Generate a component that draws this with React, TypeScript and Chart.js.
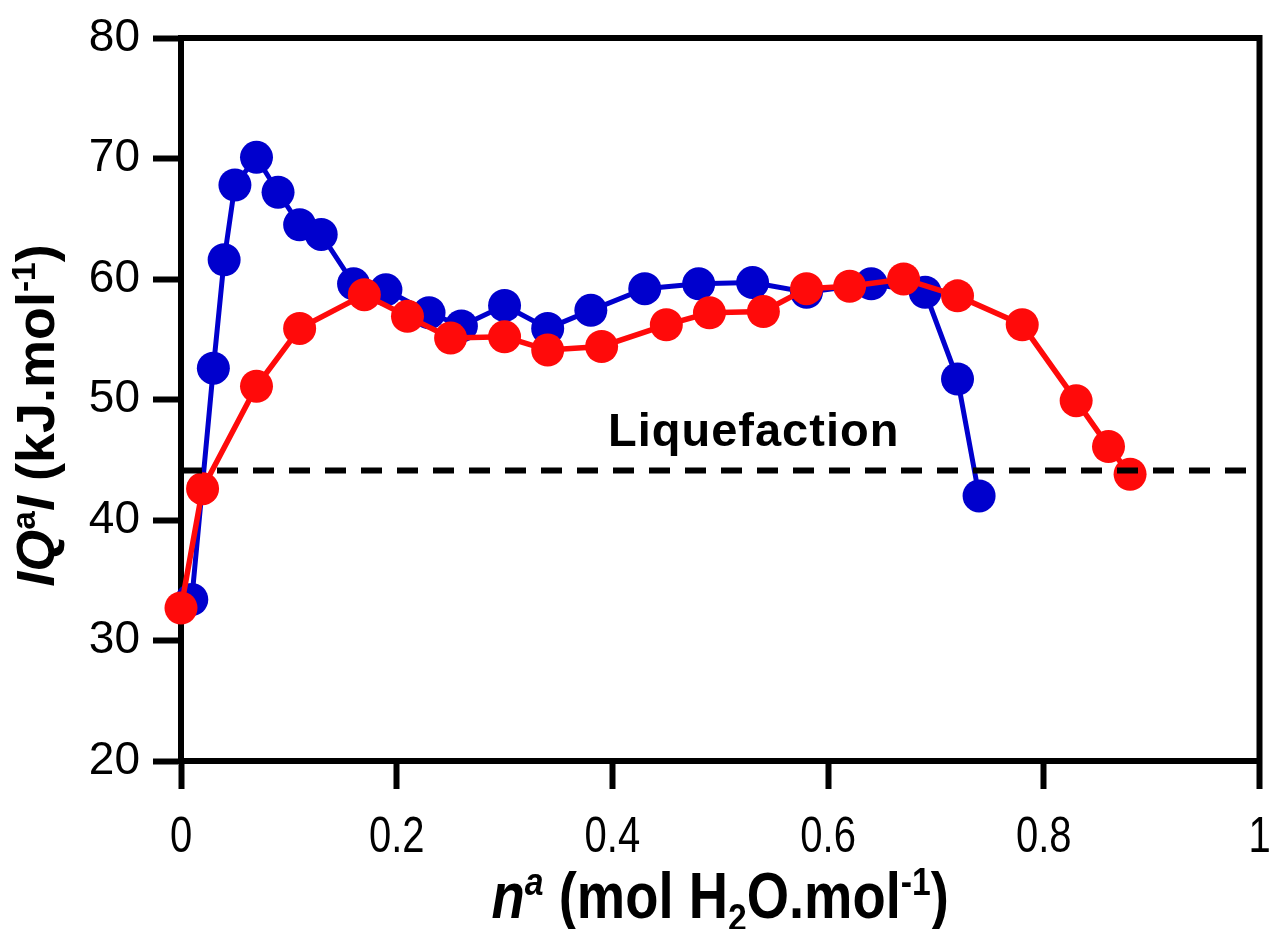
import { useEffect, useRef } from 'react';
import { Chart, registerables } from 'chart.js';

Chart.register(...registerables);

// ---- data ----
const blueX = [0.01, 0.03, 0.04, 0.05, 0.07, 0.09, 0.11, 0.13, 0.16, 0.19, 0.23, 0.26, 0.30, 0.34, 0.38, 0.43, 0.48, 0.53, 0.58, 0.64, 0.69, 0.72, 0.74];
const blueY = [33.4, 52.6, 61.6, 67.8, 70.1, 67.2, 64.5, 63.7, 59.6, 59.1, 57.2, 56.1, 57.8, 55.9, 57.4, 59.2, 59.6, 59.7, 58.9, 59.6, 58.9, 51.7, 42.0];

const redX = [0, 0.02, 0.07, 0.11, 0.17, 0.21, 0.25, 0.30, 0.34, 0.39, 0.45, 0.49, 0.54, 0.58, 0.62, 0.67, 0.72, 0.78, 0.83, 0.86, 0.88];
const redY = [32.7, 42.6, 51.1, 55.9, 58.7, 56.9, 55.1, 55.2, 54.1, 54.4, 56.2, 57.2, 57.3, 59.2, 59.4, 60.0, 58.6, 56.2, 49.9, 46.1, 43.8];

const liquefactionY = 44.1;
const liquefactionLabel = 'Liquefaction';
const liquefactionLabelAt = { x: 0.531, y: 47.2 };

const xTicks = [0, 0.2, 0.4, 0.6, 0.8, 1];
const xTickLabels = ['0', '0.2', '0.4', '0.6', '0.8', '1'];
const yTicks = [20, 30, 40, 50, 60, 70, 80];
const yTickLabels = ['20', '30', '40', '50', '60', '70', '80'];

// rich-text titles: [text, italic, position]
type Seg = [string, boolean, 'base' | 'sup' | 'sub'];
const xTitle: Seg[] = [
  ['n', true, 'base'],
  ['a', true, 'sup'],
  [' (mol H', false, 'base'],
  ['2', false, 'sub'],
  ['O.mol', false, 'base'],
  ['-1', false, 'sup'],
  [')', false, 'base'],
];
const yTitle: Seg[] = [
  ['IQ', true, 'base'],
  ['a', false, 'sup'],
  ['I', true, 'base'],
  [' (kJ.mol', false, 'base'],
  ['-1', false, 'sup'],
  [')', false, 'base'],
];

const BLUE = '#0000CD';
const RED = '#FF0A0A';
const SANS = "'Liberation Sans', Arial, sans-serif";

function drawRich(
  ctx: CanvasRenderingContext2D,
  segs: Seg[],
  size: number,
  family: string,
  cx: number,
  baseline: number,
  rotate: boolean,
  squeeze: number,
) {
  const fontFor = (s: Seg) => {
    const sz = s[2] === 'base' ? size : size * 0.62;
    return `${s[1] ? 'italic ' : ''}bold ${sz}px ${family}`;
  };
  let total = 0;
  const widths: number[] = [];
  for (const s of segs) {
    ctx.font = fontFor(s);
    const w = ctx.measureText(s[0]).width;
    widths.push(w);
    total += w;
  }
  ctx.save();
  if (rotate) {
    ctx.translate(baseline, cx);
    ctx.rotate(-Math.PI / 2);
  } else {
    ctx.translate(cx, baseline);
  }
  ctx.scale(squeeze, 1);
  ctx.fillStyle = '#000';
  ctx.textBaseline = 'alphabetic';
  ctx.textAlign = 'left';
  let x = -total / 2;
  segs.forEach((s, i) => {
    ctx.font = fontFor(s);
    let dy = 0;
    if (s[2] === 'sup') dy = -size * 0.36;
    if (s[2] === 'sub') dy = size * 0.2;
    ctx.fillText(s[0], x, dy);
    x += widths[i];
  });
  ctx.restore();
}

const decorPlugin = {
  id: 'decor',
  afterDraw(chart: any) {
    const { ctx, chartArea } = chart;
    const { left, right, top, bottom } = chartArea;
    ctx.save();
    ctx.strokeStyle = '#000';
    ctx.lineWidth = 6;
    ctx.lineCap = 'butt';
    ctx.beginPath();
    ctx.moveTo(left - 3, top);
    ctx.lineTo(right + 3, top);
    ctx.moveTo(right, top);
    ctx.lineTo(right, bottom + 3);
    ctx.stroke();

    const xs = chart.scales.x;
    const ys = chart.scales.y;

    // x tick labels (condensed)
    ctx.fillStyle = '#000';
    ctx.textAlign = 'center';
    ctx.textBaseline = 'alphabetic';
    ctx.font = `50px ${SANS}`;
    xTicks.forEach((v, i) => {
      ctx.save();
      ctx.translate(xs.getPixelForValue(v), 852);
      ctx.scale(0.8, 1);
      ctx.fillText(xTickLabels[i], 0, 0);
      ctx.restore();
    });

    // Liquefaction label
    ctx.font = `bold 47px ${SANS}`;
    (ctx as any).letterSpacing = '1px';
    ctx.textAlign = 'center';
    ctx.textBaseline = 'middle';
    ctx.fillText(liquefactionLabel, xs.getPixelForValue(liquefactionLabelAt.x), ys.getPixelForValue(liquefactionLabelAt.y));
    (ctx as any).letterSpacing = '0px';

    // axis titles
    drawRich(ctx, xTitle, 64, SANS, (left + right) / 2, 918, false, 0.85);
    drawRich(ctx, yTitle, 54, SANS, (top + bottom) / 2 + 16, 54, true, 1);
    ctx.restore();
  },
};

export default function App() {
  const ref = useRef<HTMLCanvasElement | null>(null);
  useEffect(() => {
    document.body.style.margin = '0';
    const canvas = ref.current!;
    const chart = new Chart(canvas, {
      type: 'line',
      data: {
        datasets: [
          {
            label: 'Liquefaction',
            data: [
              { x: xTicks[0], y: liquefactionY },
              { x: xTicks[xTicks.length - 1], y: liquefactionY },
            ],
            borderColor: '#000',
            borderWidth: 6,
            borderDash: [21, 15],
            pointRadius: 0,
            order: 0,
            clip: false as any,
          },
          {
            label: 'red',
            data: redX.map((x, i) => ({ x, y: redY[i] })),
            borderColor: RED,
            backgroundColor: RED,
            borderWidth: 5.5,
            pointRadius: 16.5,
            pointBorderWidth: 0,
            pointBackgroundColor: RED,
            order: 1,
            clip: false as any,
          },
          {
            label: 'blue',
            data: blueX.map((x, i) => ({ x, y: blueY[i] })),
            borderColor: BLUE,
            backgroundColor: BLUE,
            borderWidth: 5,
            pointRadius: 16.5,
            pointBorderWidth: 0,
            pointBackgroundColor: BLUE,
            order: 2,
            clip: false as any,
          },
        ],
      },
      options: {
        animation: false,
        responsive: false,
        devicePixelRatio: 1,
        layout: { padding: { top: 38, right: 7, left: 0, bottom: 0 } },
        plugins: { legend: { display: false }, tooltip: { enabled: false } },
        scales: {
          x: {
            type: 'linear',
            min: xTicks[0],
            max: xTicks[xTicks.length - 1],
            afterBuildTicks: (s: any) => {
              s.ticks = xTicks.map((v) => ({ value: v }));
            },
            afterFit: (s: any) => {
              s.height = 168;
              s.paddingLeft = 0;
              s.paddingRight = 0;
            },
            ticks: { display: false },
            grid: { drawOnChartArea: false, drawTicks: true, tickLength: 28, tickWidth: 6, tickColor: '#000', color: '#000' },
            border: { display: true, width: 6, color: '#000' },
          },
          y: {
            type: 'linear',
            min: yTicks[0],
            max: yTicks[yTicks.length - 1],
            afterBuildTicks: (s: any) => {
              s.ticks = yTicks.map((v) => ({ value: v }));
            },
            afterFit: (s: any) => {
              s.width = 181;
              s.paddingTop = 0;
              s.paddingBottom = 0;
            },
            ticks: {
              autoSkip: false,
              color: '#000',
              padding: 13,
              font: { family: SANS, size: 46 },
              callback: (_v: any, i: number) => yTickLabels[i],
            },
            grid: { drawOnChartArea: false, drawTicks: true, tickLength: 28, tickWidth: 6, tickColor: '#000', color: '#000' },
            border: { display: true, width: 6, color: '#000' },
          },
        },
      },
      plugins: [decorPlugin],
    });
    return () => chart.destroy();
  }, []);
  return (
    <div style={{ position: 'absolute', left: 0, top: 0, width: 1276, height: 929, background: '#fff' }}>
      <canvas ref={ref} width={1276} height={929} style={{ display: 'block' }} />
    </div>
  );
}
